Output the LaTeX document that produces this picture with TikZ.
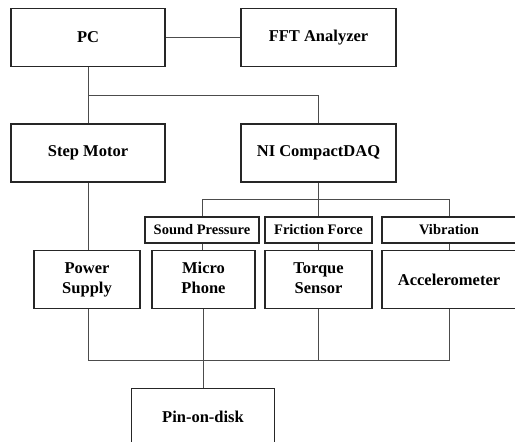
\documentclass[tikz,border=0pt]{standalone}
\usepackage{fontspec}
\setmainfont{Liberation Serif}
\begin{document}
\begin{tikzpicture}[x=1pt,y=-1pt,
  box/.style={draw=black!85,line width=1.2pt,rectangle,inner sep=0pt,align=center,
    font=\fontsize{16.5}{20}\selectfont\bfseries},
  lab/.style={draw=black!85,line width=1.2pt,rectangle,inner sep=0pt,align=center,
    font=\fontsize{14.5}{17}\selectfont\bfseries},
  wire/.style={draw=black!70,line width=0.9pt}]
\useasboundingbox (0,0) rectangle (520,442);
\clip (0,0) rectangle (514.8,442);
% top row
\node[box,minimum width=154pt,minimum height=58pt] (pc) at (88,37.3) {PC};
\node[box,minimum width=155pt,minimum height=58pt] (fft) at (318.5,37.3) {FFT Analyzer};
% second row
\node[box,minimum width=154pt,minimum height=58pt] (step) at (88,153) {Step Motor};
\node[box,minimum width=155pt,minimum height=58pt] (ni) at (318.5,153) {NI CompactDAQ};
% labels
\node[lab,minimum width=114pt,minimum height=26pt] (snd) at (202,230) {Sound Pressure};
\node[lab,minimum width=107pt,minimum height=26pt] (fric) at (318.5,230) {Friction Force};
\node[lab,minimum width=134pt,minimum height=26pt] (vib) at (449,230) {Vibration};
% sensors
\node[box,minimum width=106pt,minimum height=57.6pt] (pow) at (87,279.5) {Power\strut\\Supply\strut};
\node[box,minimum width=103pt,minimum height=57.6pt] (mic) at (203.5,279.5) {Micro\strut\\Phone\strut};
\node[box,minimum width=107pt,minimum height=57.6pt] (torq) at (318.5,279.5) {Torque\strut\\Sensor\strut};
\node[box,minimum width=134pt,minimum height=57.6pt] (acc) at (449,279.5) {Accelerometer};
% bottom
\node[box,minimum width=142.6pt,minimum height=58pt] (pin) at (203,417.3) {Pin-on-disk};
% coordinates
\coordinate (j1) at (88,95.3);
\coordinate (j2) at (318.5,199.7);
\coordinate (j3) at (203,360.3);
% connectors
\draw[wire] (pc.east) -- (fft.west);
\draw[wire] (pc.south) -- (step.north);
\draw[wire] (j1) -| (ni.north);
\draw[wire] (ni.south) -- (j2);
\draw[wire] (snd.north |- j2) -| (vib.north);
\draw[wire] (j2) -- (fric.north);
\draw[wire] (snd.north |- j2) -- (snd.north);
\draw[wire] (step.south) -- (step.south |- pow.north);
\draw[wire] (snd.south) -- (snd.south |- mic.north);
\draw[wire] (fric.south) -- (torq.north);
\draw[wire] (vib.south) -- (acc.north);
\draw[wire] (pow.south -| step.south) |- (j3);
\draw[wire] (acc.south) |- (j3);
\draw[wire] (mic.south) -- (mic.south |- j3);
\draw[wire] (torq.south) -- (torq.south |- j3);
\draw[wire] (j3) -- (j3 |- pin.north);
\end{tikzpicture}
\end{document}
